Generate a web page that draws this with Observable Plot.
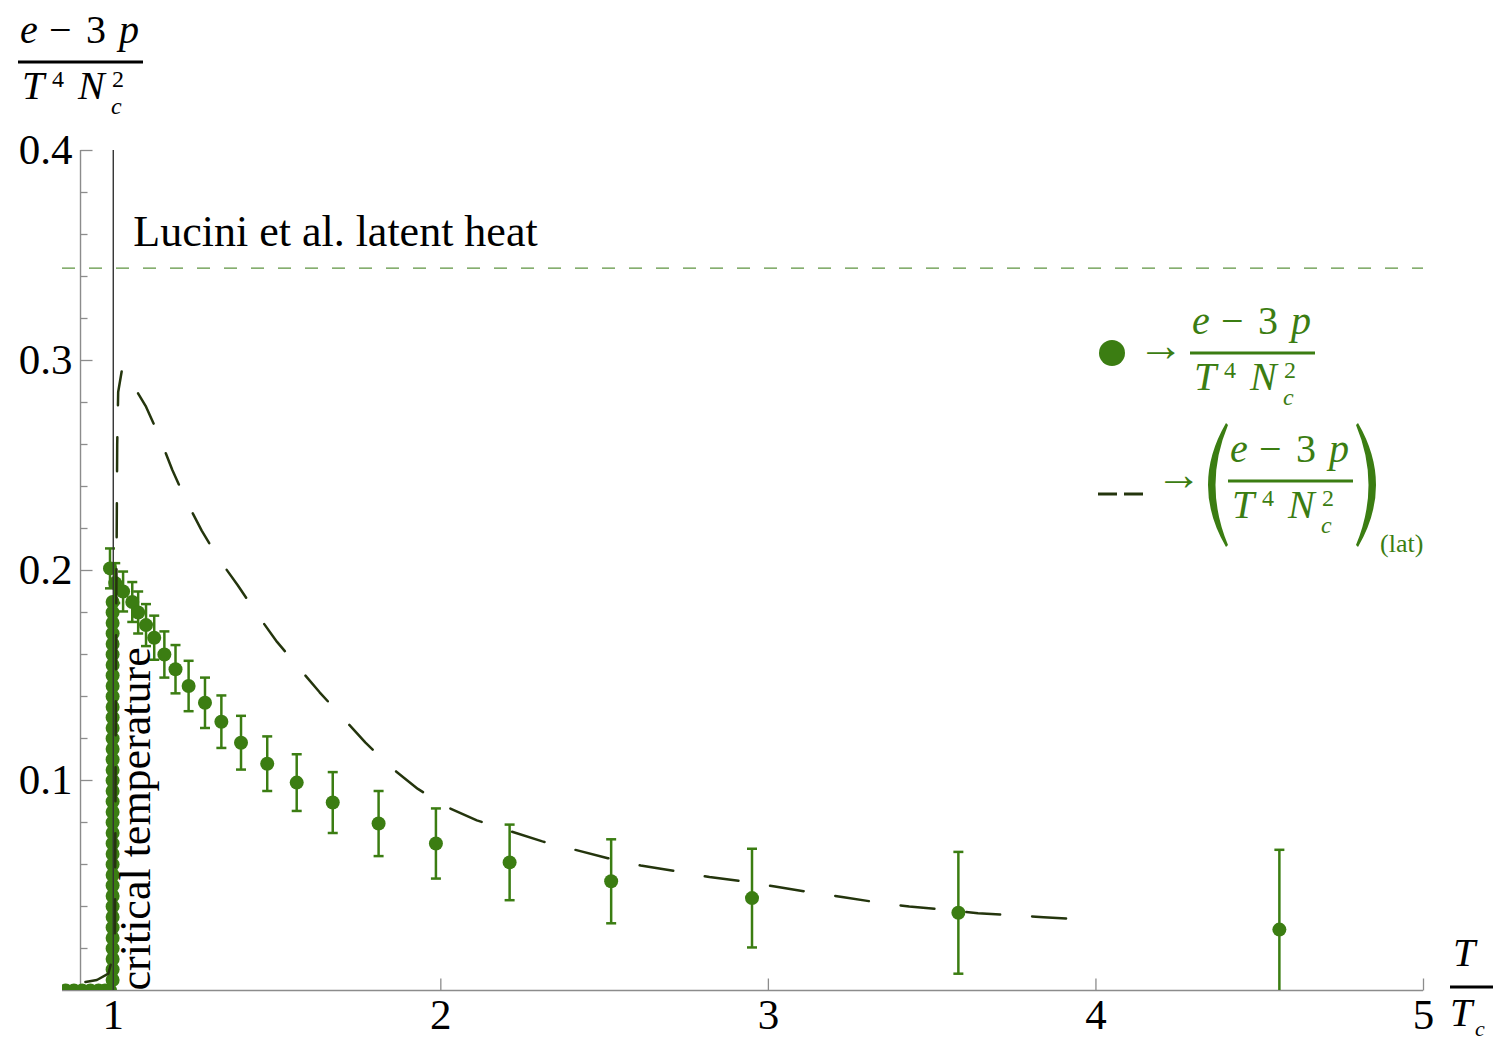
<!DOCTYPE html>
<html><head><meta charset="utf-8">
<script src="https://cdn.jsdelivr.net/npm/d3@7"></script>
<script src="https://cdn.jsdelivr.net/npm/@observablehq/plot@0.6"></script>
<style>
html,body{margin:0;padding:0;background:#fff;}
#chart{position:relative;width:1501px;height:1040px;}
</style></head><body><div id="chart"></div>
<script>
// ---- data ----
const xTicks = [1, 2, 3, 4, 5];
const yTicks = [0.1, 0.2, 0.3, 0.4];
const yMinorTicks = [0.02,0.04,0.06,0.08,0.12,0.14,0.16,0.18,0.22,0.24,0.26,0.28,0.32,0.34,0.36,0.38];
const xDomain = [0.845, 5];
const yDomain = [0, 0.4];
const axisOriginT = 0.9;
const criticalT = 1;
const luciniY = 0.344;

// dense points across the transition (T/Tc, (e-3p)/T^4Nc^2)
const transT = [0.855,0.88,0.905,0.93,0.955,0.975,0.99,
  0.998,0.998,0.998,0.998,0.998,0.998,0.998,0.998,0.998,0.998,
  0.998,0.998,0.998,0.998,0.998,0.998,0.998,0.998,0.998,0.998,
  0.998,0.998,0.998,0.998,0.998,0.998,0.998,0.998,0.998,0.998,
  0.998,0.998,0.998,0.998,0.998,0.998,0.998];
const transE = [0,0,0,0,0,0,0,
  0.005,0.01,0.015,0.02,0.025,0.03,0.035,0.04,0.045,0.05,
  0.055,0.06,0.065,0.07,0.075,0.08,0.085,0.09,0.095,0.1,
  0.105,0.11,0.115,0.12,0.125,0.13,0.135,0.14,0.145,0.15,
  0.155,0.16,0.165,0.17,0.175,0.18,0.185];

// points with error bars
const dataT = [0.99,1.006,1.03,1.058,1.076,1.10,1.125,1.156,1.19,1.23,1.28,1.33,1.39,1.47,1.56,1.67,1.81,1.985,2.21,2.52,2.95,3.58,4.56];
const dataE = [0.201,0.194,0.190,0.185,0.180,0.174,0.168,0.160,0.153,0.145,0.137,0.128,0.118,0.108,0.099,0.0895,0.0795,0.070,0.061,0.052,0.044,0.037,0.029];
const dataErr = [0.0095,0.0095,0.0095,0.0095,0.010,0.010,0.0105,0.011,0.0115,0.012,0.012,0.0125,0.0128,0.013,0.0135,0.0145,0.0155,0.0167,0.018,0.020,0.0235,0.029,0.038];

// lattice curve
const latT = [0.915,0.95,0.985,1.005,1.008,1.012,1.015,1.027,1.05,1.10,1.14,1.18,1.22,1.27,1.32,1.38,1.44,1.50,1.57,1.63,1.70,1.77,1.85,1.93,2.01,2.11,2.21,2.31,2.41,2.51,2.61,2.71,2.82,2.92,3.02,3.12,3.23,3.33,3.43,3.54,3.64,3.74,3.84,3.95,4.0];
const latE = [0.004,0.005,0.008,0.02,0.15,0.26,0.285,0.296,0.291,0.278,0.264,0.248,0.234,0.219,0.206,0.193,0.179,0.166,0.153,0.142,0.130,0.118,0.106,0.096,0.088,0.081,0.076,0.071,0.067,0.063,0.0595,0.057,0.054,0.052,0.0495,0.047,0.0444,0.042,0.040,0.0384,0.0368,0.0359,0.0349,0.034,0.0333];

// ---- style ----
const green = "#3b7d12";
const darkGreen = "#24350d";
const axisGray = "#8c8c8c";
const serif = "'Liberation Serif','Times New Roman',serif";

const tickRight = {draw(ctx, size) { const l = Math.sqrt(size / Math.PI); ctx.moveTo(0, 0); ctx.lineTo(l, 0); }};
const tickUp = {draw(ctx, size) { const l = Math.sqrt(size / Math.PI); ctx.moveTo(0, 0); ctx.lineTo(0, -l); }};
const capSym = {draw(ctx, size) { const l = Math.sqrt(size / Math.PI); ctx.moveTo(-l, 0); ctx.lineTo(l, 0); }};

const transIdx = d3.range(transT.length);
const dataIdx = d3.range(dataT.length);
const latIdx = d3.range(latT.length);

const svg = Plot.plot({
  width: 1501, height: 1040,
  marginLeft: 62, marginRight: 78, marginTop: 150, marginBottom: 50,
  x: {domain: xDomain, axis: null},
  y: {domain: yDomain, axis: null},
  style: {fontFamily: serif, background: "#fff", overflow: "visible"},
  marks: [
    // axes
    Plot.ruleY([0], {x1: xDomain[0], x2: xDomain[1], stroke: axisGray, strokeWidth: 1.6}),
    Plot.ruleX([axisOriginT], {y1: yDomain[0], y2: yDomain[1], stroke: axisGray, strokeWidth: 1.4}),
    Plot.dot(yTicks, {x: () => axisOriginT, y: d => d, symbol: tickRight, r: 12, stroke: axisGray, fill: "none", strokeWidth: 1.3}),
    Plot.dot(yMinorTicks, {x: () => axisOriginT, y: d => d, symbol: tickRight, r: 7, stroke: axisGray, fill: "none", strokeWidth: 1.3}),
    Plot.dot(xTicks, {x: d => d, y: () => 0, symbol: tickUp, r: 12, stroke: axisGray, fill: "none", strokeWidth: 1.3}),
    Plot.text(yTicks, {x: () => axisOriginT, y: d => d, text: d => d.toFixed(1), textAnchor: "end", lineAnchor: "middle", dx: -8, fontSize: 43, fill: "#000"}),
    Plot.text(xTicks, {x: d => d, y: () => 0, text: d => String(d), lineAnchor: "top", dy: 8, fontSize: 43, fill: "#000"}),
    // reference lines
    Plot.ruleY([luciniY], {x1: xDomain[0], x2: xDomain[1], stroke: "#5e9440", strokeWidth: 1.2, strokeDasharray: "13,14"}),
    Plot.text([luciniY], {x: () => criticalT, y: d => d, text: () => "Lucini et al. latent heat", textAnchor: "start", lineAnchor: "bottom", dx: 20, dy: -22, fontSize: 44, fill: "#000"}),
    // error bars
    Plot.ruleX(dataIdx, {x: i => dataT[i], y1: i => dataE[i] - dataErr[i], y2: i => dataE[i] + dataErr[i], stroke: green, strokeWidth: 2.5, clip: true}),
    Plot.dot(dataIdx, {x: i => dataT[i], y: i => dataE[i] + dataErr[i], symbol: capSym, r: 5, stroke: green, fill: "none", strokeWidth: 2.5, clip: true}),
    Plot.dot(dataIdx, {x: i => dataT[i], y: i => dataE[i] - dataErr[i], symbol: capSym, r: 5, stroke: green, fill: "none", strokeWidth: 2.5, clip: true}),
    // points
    Plot.dot(transIdx, {x: i => transT[i], y: i => transE[i], r: 7, fill: green, clip: true}),
    Plot.dot(dataIdx, {x: i => dataT[i], y: i => dataE[i], r: 7, fill: green, clip: true}),
    // critical temperature
    Plot.ruleX([criticalT], {y1: yDomain[0], y2: yDomain[1], stroke: "#333", strokeWidth: 1.4}),
    Plot.text([criticalT], {x: d => d, y: () => 0, text: () => "critical temperature", rotate: -90, textAnchor: "start", lineAnchor: "bottom", dx: 37, fontSize: 44, fill: "#000"}),
    // lattice curve
    Plot.line(latIdx, {x: i => latT[i], y: i => latE[i], stroke: darkGreen, strokeWidth: 2.5, strokeDasharray: "34,32", clip: true})
  ]
});

document.getElementById("chart").appendChild(svg);

// ---- annotations: axis labels and legend ----
const root = d3.select(svg).append("g").attr("font-family", serif).attr("text-anchor", "start");
function txt(g, s, x, y, size, italic, color) {
  return g.append("text").attr("x", x).attr("y", y).attr("font-size", size)
    .attr("text-anchor", "start")
    .attr("font-style", italic ? "italic" : "normal").attr("fill", color).text(s);
}
function frac(g, x0, barY, color) {
  const fs = 40, ss = 24;
  txt(g, "e", x0 + 2, barY - 19, fs, true, color);
  txt(g, "\u2212", x0 + 31, barY - 19, fs, false, color);
  txt(g, "3", x0 + 68, barY - 19, fs, false, color);
  txt(g, "p", x0 + 101, barY - 19, fs, true, color);
  g.append("line").attr("x1", x0).attr("x2", x0 + 125).attr("y1", barY).attr("y2", barY)
    .attr("stroke", color).attr("stroke-width", 3);
  txt(g, "T", x0 + 4, barY + 37, fs, true, color);
  txt(g, "4", x0 + 34, barY + 25, ss, false, color);
  txt(g, "N", x0 + 60, barY + 37, fs, true, color);
  txt(g, "2", x0 + 94, barY + 25, ss, false, color);
  txt(g, "c", x0 + 93, barY + 52, ss, true, color);
}
// y label
frac(root, 18, 62, "#000");
// x label
txt(root, "T", 1453, 966, 40, true, "#000");
root.append("line").attr("x1", 1450).attr("x2", 1493).attr("y1", 987).attr("y2", 987).attr("stroke", "#000").attr("stroke-width", 3);
txt(root, "T", 1450, 1026, 40, true, "#000");
txt(root, "c", 1475, 1036, 22, true, "#000");

// legend entry 1
root.append("circle").attr("cx", 1112).attr("cy", 353).attr("r", 13).attr("fill", green);
txt(root, "\u2192", 1138, 361, 46, false, green);
frac(root, 1190, 353, green);
// legend entry 2
root.append("line").attr("x1", 1098).attr("x2", 1117).attr("y1", 494).attr("y2", 494).attr("stroke", darkGreen).attr("stroke-width", 3);
root.append("line").attr("x1", 1124).attr("x2", 1143).attr("y1", 494).attr("y2", 494).attr("stroke", darkGreen).attr("stroke-width", 3);
txt(root, "\u2192", 1156, 490, 46, false, green);
frac(root, 1228, 481, green);
root.append("path").attr("fill", green)
  .attr("d", "M1226,423 Q1190,485 1226,547 L1228,545 Q1203,485 1228,425 Z");
root.append("path").attr("fill", green)
  .attr("d", "M1358,423 Q1394,485 1358,547 L1356,545 Q1381,485 1356,425 Z");
txt(root, "(lat)", 1380, 552, 26, false, green);
</script></body></html>
